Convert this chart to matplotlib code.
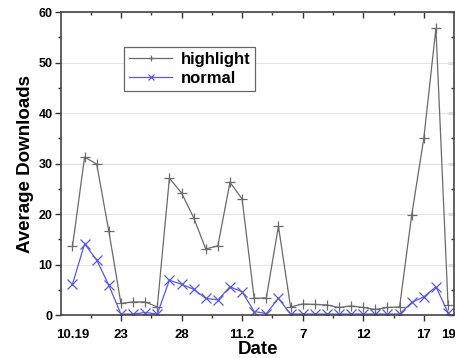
import matplotlib.pyplot as plt
from matplotlib.ticker import MultipleLocator

plt.rcParams['font.family'] = ['Liberation Sans', 'DejaVu Sans']

days = list(range(32))  # 10.19 .. 11.19
highlight = [13.6, 31.3, 29.9, 16.6, 2.3, 2.6, 2.6, 1.6, 27.1, 24.2,
             19.3, 13.1, 13.7, 26.3, 23.0, 3.3, 3.4, 17.6, 1.6, 2.2,
             2.1, 2.0, 1.5, 1.8, 1.5, 1.1, 1.5, 1.6, 19.8, 35.0,
             56.8, 2.0]
normal = [6.1, 14.1, 10.9, 5.9, 0.2, 0.2, 0.5, 0.2, 6.9, 6.1,
          5.1, 3.3, 3.0, 5.6, 4.6, 0.7, 0.3, 3.3, 0.2, 0.2,
          0.2, 0.2, 0.2, 0.2, 0.2, 0.2, 0.2, 0.2, 2.5, 3.6,
          5.6, 0.5]
tick_pos = [0, 4, 9, 14, 19, 24, 29, 31]
tick_labels = ["10.19", "23", "28", "11.2", "7", "12", "17", "19"]

fig = plt.figure(figsize=(4.55, 3.58), dpi=100)
ax = fig.add_axes([0.134, 0.120, 0.864, 0.846])

ax.plot(days, highlight, color="#6a6a6a", lw=0.9, marker="+", ms=7, mew=0.9, label="highlight")
ax.plot(days, normal, color="#5a5ad0", lw=0.9, marker="x", ms=7, mew=0.9, label="normal")

ax.set_xlim(-0.95, 31.5)
ax.set_ylim(0, 60)
ax.set_xticks(tick_pos)
ax.set_xticklabels(tick_labels, fontweight="bold", fontsize=9.5)
for t in (ax.xaxis.get_major_ticks()[0], ax.xaxis.get_major_ticks()[-1]):
    t.tick1line.set_visible(False)
ax.set_xticks([1.5, 6.5, 11.5, 16.5, 21.5, 26.5], minor=True)
ax.yaxis.set_major_locator(MultipleLocator(10))
ax.yaxis.set_minor_locator(MultipleLocator(5))
for lab in ax.get_yticklabels():
    lab.set_fontweight("bold")
    lab.set_fontsize(9)
ax.tick_params(direction="out", length=4, width=1, color="#333333", pad=2)
ax.tick_params(axis="x", pad=6)
ax.tick_params(which="minor", direction="out", length=2.5, width=1, color="#333333")

ax.grid(axis="y", color="#e4e4e4", lw=0.8)
ax.set_axisbelow(True)
for s in ax.spines.values():
    s.set_color("#444444")
    s.set_linewidth(1.2)

# mirrored inward ticks on top and right
top = ax.secondary_xaxis("top")
top.set_xticks([4, 9, 14, 19, 24, 29])
top.set_xticks([1.5, 6.5, 11.5, 16.5, 21.5, 26.5], minor=True)
top.tick_params(direction="in", length=4, width=1, color="#333333", labeltop=False)
top.tick_params(which="minor", direction="in", length=2.5, width=1, color="#333333")
top.spines["top"].set_visible(False)
right = ax.secondary_yaxis("right")
right.yaxis.set_major_locator(MultipleLocator(10))
right.yaxis.set_minor_locator(MultipleLocator(5))
right.tick_params(direction="in", length=4, width=1, color="#333333", labelright=False)
right.tick_params(which="minor", direction="in", length=2.5, width=1, color="#333333")
right.spines["right"].set_visible(False)

ax.set_xlabel("Date", fontsize=13.5, fontweight="bold", labelpad=0)
ax.set_ylabel("Average Downloads", fontsize=13.5, fontweight="bold", labelpad=3)

leg = ax.legend(loc="upper left", bbox_to_anchor=(0.16, 0.884), fancybox=False,
                edgecolor="#666666", framealpha=1, prop={"weight": "bold", "size": 12},
                handlelength=2.6, markerscale=0.7, borderpad=0.3, labelspacing=0.2,
                handletextpad=0.5, borderaxespad=0)
leg.get_frame().set_linewidth(0.9)

fig.savefig("out.png", dpi=100)
